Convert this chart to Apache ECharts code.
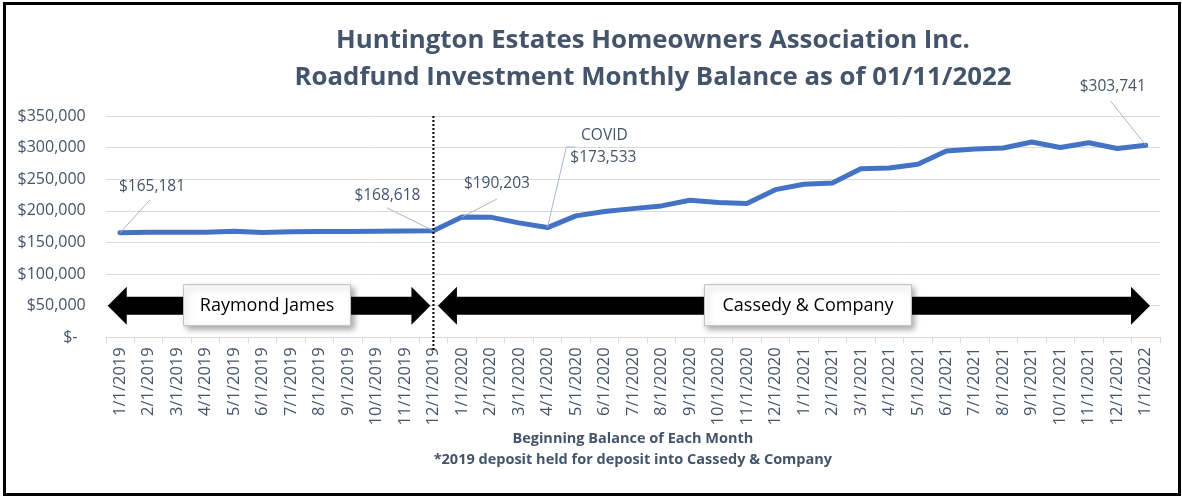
<!DOCTYPE html>
<html>
<head>
<meta charset="utf-8">
<script src="https://cdn.jsdelivr.net/npm/echarts@6/dist/echarts.min.js"></script>
<style>
html,body{margin:0;padding:0;background:#fff;}
#chart{width:1182px;height:500px;}
</style>
</head>
<body>
<div id="chart"></div>
<script>
const categories = [
  '1/1/2019','2/1/2019','3/1/2019','4/1/2019','5/1/2019','6/1/2019','7/1/2019','8/1/2019','9/1/2019','10/1/2019','11/1/2019','12/1/2019',
  '1/1/2020','2/1/2020','3/1/2020','4/1/2020','5/1/2020','6/1/2020','7/1/2020','8/1/2020','9/1/2020','10/1/2020','11/1/2020','12/1/2020',
  '1/1/2021','2/1/2021','3/1/2021','4/1/2021','5/1/2021','6/1/2021','7/1/2021','8/1/2021','9/1/2021','10/1/2021','11/1/2021','12/1/2021',
  '1/1/2022'
];
const balances = [
  165181,166000,166200,166300,167800,165600,167000,167300,167500,167800,168000,168618,
  190203,190000,181000,173533,192000,199000,203500,207800,216800,213200,211600,233500,
  242000,244000,266500,267800,273600,294500,297800,299400,308800,300200,307800,298600,
  303741
];
const titleLines = ['Huntington Estates Homeowners Association Inc.', 'Roadfund Investment Monthly Balance as of 01/11/2022'];
const axisTitleLines = ['Beginning Balance of Each Month', '*2019 deposit held for deposit into Cassedy & Company'];
const managers = ['Raymond James', 'Cassedy & Company'];
const switchIndex = 11;
const calloutIndices = [0, 11, 12, 15, 36];
const calloutPrefix = {15: 'COVID'};

const slate = '#44546a';
const chart = echarts.init(document.getElementById('chart'));
const fmt = v => '$' + v.toLocaleString('en-US');

chart.setOption({
  animation: false,
  grid: {left: 105.75, right: 22, top: 116, bottom: 162.7},
  xAxis: {
    type: 'category', data: categories, boundaryGap: true,
    axisLine: {lineStyle: {color: '#d9d9d9', width: 1}},
    axisTick: {show: true, length: 6, lineStyle: {color: '#d9d9d9'}},
    axisLabel: {rotate: 90, interval: 0, color: slate, fontFamily: 'Open Sans', fontSize: 16.5, margin: 10}
  },
  yAxis: {
    type: 'value', min: 0, max: 350000, interval: 50000,
    axisLine: {show: false}, axisTick: {show: false},
    splitLine: {lineStyle: {color: '#d9d9d9', width: 1}},
    axisLabel: {color: slate, fontFamily: 'Open Sans', fontSize: 16, margin: 20,
      formatter: v => v === 0 ? '$-  ' : fmt(v)}
  },
  series: [{
    type: 'line', data: balances, showSymbol: false, smooth: false,
    lineStyle: {color: '#4472c4', width: 5, cap: 'round', join: 'round'},
    itemStyle: {color: '#4472c4'}
  }]
});

function px(i, v) { return chart.convertToPixel({gridIndex: 0}, [i, v]); }

const g = [];
// frame
g.push({type: 'rect', shape: {x: 4.5, y: 3.5, width: 1175, height: 491}, style: {fill: 'none', stroke: '#000', lineWidth: 3}, z: 100});
// title
titleLines.forEach((t, k) => g.push({type: 'text', x: 653, y: 41 + k * 37,
  style: {text: t, fill: slate, font: 'bold 25.8px "Open Sans"', textAlign: 'center', textVerticalAlign: 'middle'}}));
// axis title
const gridL = px(0, 0)[0] - 14.25, gridR = px(categories.length - 1, 0)[0] + 14.25;
const midX = (gridL + gridR) / 2;
axisTitleLines.forEach((t, k) => g.push({type: 'text', x: midX, y: 439 + k * 21,
  style: {text: t, fill: slate, font: 'bold 14.5px "Open Sans"', textAlign: 'center', textVerticalAlign: 'middle'}}));

// dotted separator
const sep = px(switchIndex, 350000);
const sepBottom = px(switchIndex, 0);
g.push({type: 'line', shape: {x1: sep[0], y1: sep[1], x2: sep[0], y2: sepBottom[1] + 15},
  style: {stroke: '#000', lineWidth: 2, lineDash: [2, 2]}, z: 20});

// arrows
function dblArrow(x1, x2, yc) {
  const sh = 9, hh = 19, hl = 19;
  return {type: 'polygon', shape: {points: [
    [x1, yc], [x1 + hl, yc - hh], [x1 + hl, yc - sh], [x2 - hl, yc - sh], [x2 - hl, yc - hh], [x2, yc],
    [x2 - hl, yc + hh], [x2 - hl, yc + sh], [x1 + hl, yc + sh], [x1 + hl, yc + hh]
  ]}, style: {fill: '#000'}, z: 10};
}
const yc = px(0, 50000)[1];
const a1 = [gridL + 2, sep[0] - 3];
const a2 = [sep[0] + 4.5, gridR - 10];
g.push(dblArrow(a1[0], a1[1], yc));
g.push(dblArrow(a2[0], a2[1], yc));
function box(cx, w, text) {
  g.push({type: 'rect', shape: {x: cx - w / 2, y: yc - 21, width: w, height: 41},
    style: {fill: '#fff', stroke: '#bfbfbf', lineWidth: 1, shadowBlur: 6, shadowOffsetX: 3, shadowOffsetY: 3, shadowColor: 'rgba(0,0,0,0.35)'}, z: 15});
  g.push({type: 'text', x: cx, y: yc, style: {text: text, fill: '#000', font: '18px "Open Sans"', textAlign: 'center', textVerticalAlign: 'middle'}, z: 16});
}
box((a1[0] + a1[1]) / 2 - 2, 167, managers[0]);
box((a2[0] + a2[1]) / 2 + 14, 207, managers[1]);

// callouts
const calloutGeom = {
  0:  {tx: 32, ty: -46, lx: 30, ly: -33},
  11: {tx: -46, ty: -35, lx: -47, ly: -23},
  12: {tx: 35, ty: -33, lx: 35, ly: -18},
  15: {tx: 56, ty: -70, lx: 19, ly: -80.6, hx: 28},
  36: {tx: -33, ty: -59, lx: -35, ly: -44}
};
const lead = '#aab4c8';
calloutIndices.forEach(i => {
  const p = px(i, balances[i]);
  const c = calloutGeom[i];
  g.push({type: 'line', shape: {x1: p[0] + c.lx, y1: p[1] + c.ly, x2: p[0], y2: p[1]}, style: {stroke: lead, lineWidth: 1}, z: 5});
  if (c.hx) g.push({type: 'line', shape: {x1: p[0] + c.lx, y1: p[1] + c.ly, x2: p[0] + c.hx, y2: p[1] + c.ly}, style: {stroke: lead, lineWidth: 1}, z: 5});
  g.push({type: 'text', x: p[0] + c.tx, y: p[1] + c.ty,
    style: {text: fmt(balances[i]), fill: slate, font: '15.5px "Open Sans"', textAlign: 'center', textVerticalAlign: 'middle'}, z: 6});
  if (calloutPrefix[i]) g.push({type: 'text', x: p[0] + c.tx + 1, y: p[1] + c.ty - 22,
    style: {text: calloutPrefix[i], fill: slate, font: '15.5px "Open Sans"', textAlign: 'center', textVerticalAlign: 'middle'}, z: 6});
});

chart.setOption({graphic: g});
</script>
</body>
</html>
